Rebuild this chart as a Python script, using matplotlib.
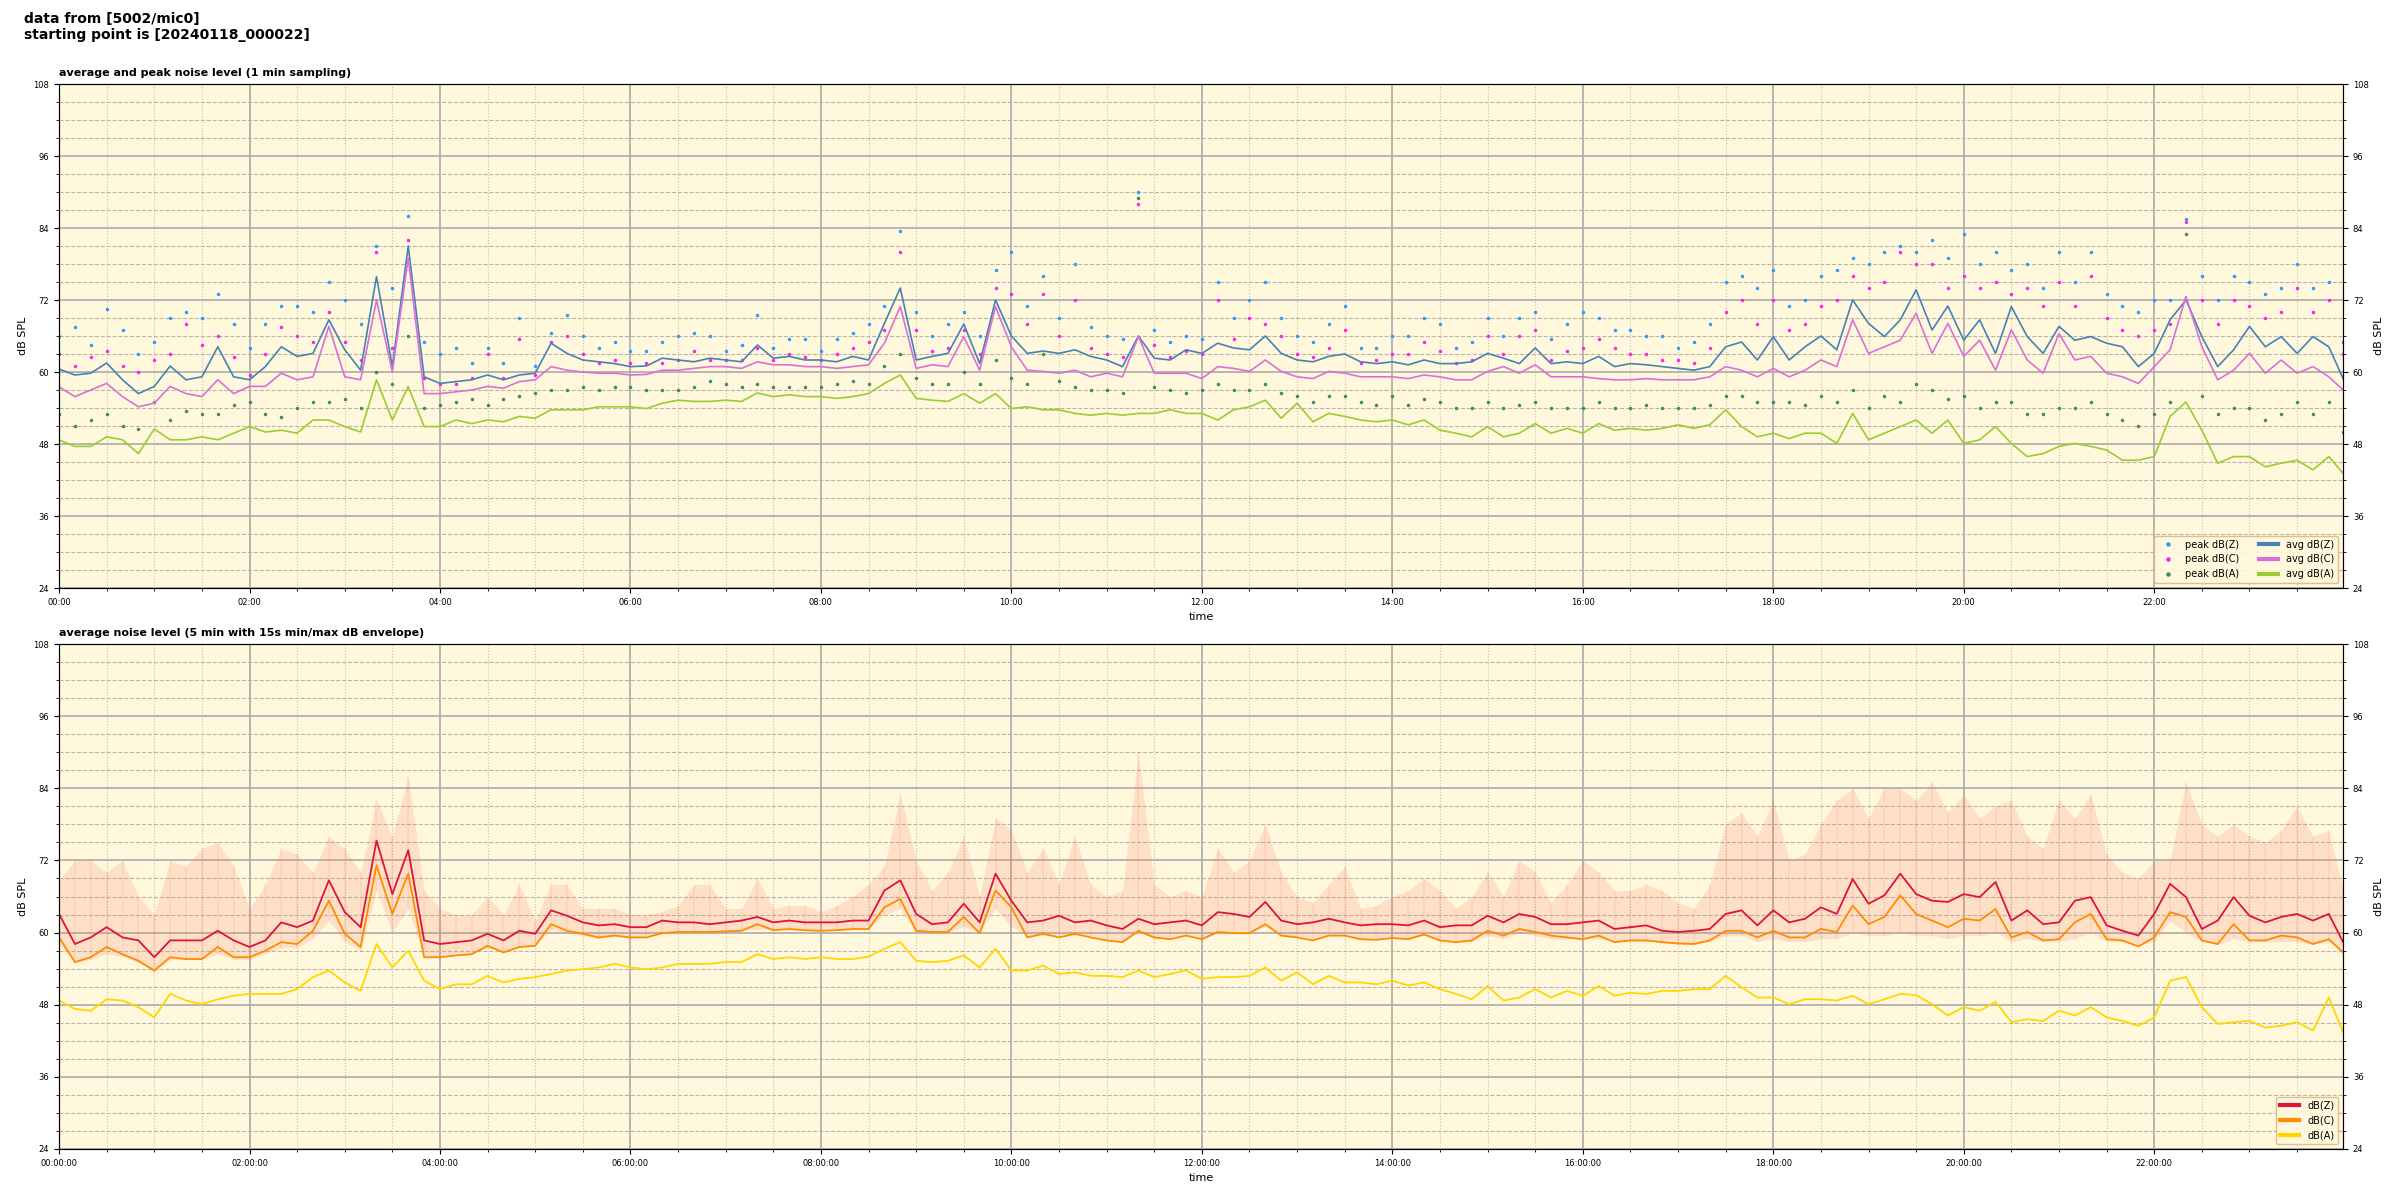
import matplotlib
matplotlib.use("Agg")
import matplotlib.pyplot as plt
import matplotlib.ticker as mtick
import numpy as np

# time axis: minutes since start, 10 min steps + last sample
minutes = list(range(0, 1440, 10)) + [1439]

# ---- top panel: 1 min averages (read every 10 min) ----
avg_z = [60.5, 59.5, 59.8, 61.5, 58.7, 56.4, 57.6, 61.0, 58.7, 59.2, 64.2, 59.2,
         58.7, 60.9, 64.2, 62.6, 63.1, 68.7, 63.7, 60.3, 75.9, 60.9, 81.0, 59.2,
         58.1, 58.4, 58.7, 59.5, 58.7, 59.5, 59.8, 64.8, 63.1, 62.0, 61.7, 61.4,
         60.9, 61.0, 62.3, 62.0, 61.7, 62.3, 62.0, 61.7, 64.5, 62.3, 62.6, 62.0,
         62.0, 61.7, 62.6, 62.0, 68.1, 74.0, 62.0, 62.6, 63.1, 68.0, 61.4, 72.0,
         66.0, 63.1, 63.5, 63.1, 63.7, 62.6, 62.0, 60.9, 66.0, 62.3, 62.0, 63.7,
         63.1, 64.8, 64.0, 63.7, 66.0, 63.1, 62.0, 61.7, 62.6, 63.0, 61.7, 61.4,
         61.7, 61.2, 62.0, 61.4, 61.4, 61.7, 63.1, 62.3, 61.4, 64.0, 61.4, 61.7,
         61.4, 62.6, 60.9, 61.4, 61.2, 60.9, 60.6, 60.3, 60.9, 64.2, 65.0, 62.0,
         65.9, 62.0, 64.2, 66.0, 63.7, 72.0, 68.1, 65.9, 68.7, 73.7, 67.0, 71.0,
         65.3, 68.7, 63.1, 70.9, 65.9, 63.1, 67.6, 65.3, 65.9, 64.8, 64.2, 60.9,
         63.1, 68.7, 72.0, 65.9, 60.9, 63.7, 67.6, 64.2, 65.9, 63.1, 65.9, 64.2,
         58.9]
avg_c = [57.5, 55.9, 57.0, 58.1, 55.9, 54.2, 54.8, 57.6, 56.4, 55.9, 58.7, 56.4,
         57.6, 57.6, 59.8, 58.7, 59.2, 67.6, 59.2, 58.7, 72.0, 60.0, 79.0, 56.4,
         56.4, 56.7, 57.0, 57.6, 57.3, 58.4, 58.7, 60.9, 60.3, 60.0, 59.8, 59.8,
         59.5, 59.6, 60.3, 60.3, 60.6, 60.9, 60.9, 60.6, 61.7, 61.2, 61.2, 60.9,
         60.9, 60.6, 60.9, 61.2, 64.8, 70.9, 60.6, 61.2, 60.9, 65.9, 60.3, 70.9,
         64.2, 60.3, 60.1, 59.8, 60.3, 59.2, 59.8, 59.2, 65.9, 59.8, 59.8, 59.8,
         58.9, 60.9, 60.6, 60.1, 62.0, 60.1, 59.2, 58.9, 60.1, 59.8, 59.2, 59.2,
         59.2, 58.9, 59.5, 59.2, 58.7, 58.7, 60.1, 60.9, 59.8, 61.2, 59.2, 59.2,
         59.2, 58.9, 58.7, 58.7, 58.9, 58.7, 58.7, 58.7, 59.2, 60.9, 60.3, 59.2,
         60.6, 59.2, 60.3, 62.0, 60.9, 68.7, 63.1, 64.2, 65.3, 69.8, 63.1, 68.1,
         62.6, 65.3, 60.3, 67.0, 62.0, 59.8, 66.4, 62.0, 62.6, 59.8, 59.2, 58.1,
         60.9, 63.7, 72.6, 64.2, 58.7, 60.3, 63.1, 59.8, 62.0, 59.8, 60.9, 59.2,
         57.0]
avg_a = [48.7, 47.6, 47.6, 49.2, 48.7, 46.4, 50.5, 48.7, 48.7, 49.2, 48.7, 49.8,
         50.9, 50.0, 50.3, 49.8, 52.0, 52.0, 50.9, 50.0, 58.7, 52.0, 57.6, 50.9,
         50.9, 52.0, 51.4, 52.0, 51.7, 52.6, 52.3, 53.7, 53.7, 53.7, 54.2, 54.2,
         54.2, 53.9, 54.8, 55.3, 55.1, 55.1, 55.3, 55.1, 56.5, 55.9, 56.2, 55.9,
         55.9, 55.6, 55.9, 56.4, 58.1, 59.5, 55.6, 55.3, 55.1, 56.4, 54.8, 56.4,
         53.9, 54.2, 53.7, 53.7, 53.1, 52.8, 53.1, 52.8, 53.1, 53.1, 53.7, 53.1,
         53.1, 52.0, 53.7, 54.2, 55.3, 52.3, 54.8, 51.7, 53.1, 52.6, 52.0, 51.7,
         52.0, 51.2, 52.0, 50.3, 49.8, 49.2, 50.9, 49.2, 49.8, 51.4, 49.8, 50.6,
         49.8, 51.4, 50.3, 50.6, 50.3, 50.6, 51.2, 50.6, 51.2, 53.7, 50.9, 49.2,
         49.8, 48.9, 49.8, 49.8, 48.1, 53.1, 48.7, 49.8, 50.9, 52.0, 49.8, 52.0,
         48.1, 48.7, 50.9, 48.1, 45.9, 46.4, 47.6, 48.1, 47.6, 47.0, 45.3, 45.3,
         45.9, 52.6, 55.0, 50.3, 44.8, 45.9, 45.9, 44.2, 44.8, 45.3, 43.7, 45.9,
         43.1]

# peaks
peak_z = [66, 67.5, 64.5, 70.5, 67, 63, 65, 69, 70, 69, 73, 68,
          64, 68, 71, 71, 70, 75, 72, 68, 81, 74, 86, 65,
          63, 64, 61.5, 64, 61.5, 69, 61, 66.5, 69.5, 66, 64, 65,
          63.5, 63.5, 65, 66, 66.5, 66, 63.5, 64.5, 69.5, 64, 65.5, 65.5,
          63.5, 65.5, 66.5, 68, 71, 83.5, 70, 66, 68, 70, 66, 77,
          80, 71, 76, 69, 78, 67.5, 66, 65.5, 90, 67, 65, 66,
          65.5, 75, 69, 72, 75, 69, 66, 65, 68, 71, 64, 64,
          66, 66, 69, 68, 64, 65, 69, 66, 69, 70, 65.5, 68,
          70, 69, 67, 67, 66, 66, 64, 65, 68, 75, 76, 74,
          77, 71, 72, 76, 77, 79, 78, 80, 81, 80, 82, 79,
          83, 78, 80, 77, 78, 74, 80, 75, 80, 73, 71, 70,
          72, 72, 85.5, 76, 72, 76, 75, 73, 74, 78, 74, 75,
          65]
peak_c = [63, 61, 62.5, 63.5, 61, 60, 62, 63, 68, 64.5, 66, 62.5,
          59.5, 63, 67.5, 66, 65, 70, 65, 62, 80, 64, 82, 59,
          58, 58, 59, 63, 59, 65.5, 59.5, 65, 66, 63, 61.5, 62,
          61.5, 61.5, 61.5, 62, 63.5, 62, 62, 62, 64, 62, 63, 62.5,
          62, 63, 64, 65, 67, 80, 67, 63.5, 64, 67, 63, 74,
          73, 68, 73, 66, 72, 64, 63, 62.5, 88, 64.5, 62.5, 63.5,
          63, 72, 65.5, 69, 68, 66, 63, 62.5, 64, 67, 61.5, 62,
          63, 63, 65, 63.5, 61.5, 62, 66, 63, 66, 67, 62, 63.5,
          64, 65.5, 64, 63, 63, 62, 62, 61.5, 64, 70, 72, 68,
          72, 67, 68, 71, 72, 76, 74, 75, 80, 78, 78, 74,
          76, 74, 75, 73, 74, 71, 75, 71, 76, 69, 67, 66,
          67, 68, 85, 72, 68, 72, 71, 69, 70, 74, 70, 72,
          63]
peak_a = [53, 51, 52, 53, 51, 50.5, 55, 52, 53.5, 53, 53, 54.5,
          55, 53, 52.5, 54, 55, 55, 55.5, 54, 60, 58, 66, 54,
          54.5, 55, 55.5, 54.5, 55.5, 56, 56.5, 57, 57, 57.5, 57, 57.5,
          57.5, 57, 57, 57, 57.5, 58.5, 58, 57.5, 58, 57.5, 57.5, 57.5,
          57.5, 58, 58.5, 58, 61, 63, 59, 58, 58, 60, 58, 62,
          59, 58, 63, 58.5, 57.5, 57, 57, 56.5, 89, 57.5, 57, 56.5,
          57, 58, 57, 57, 58, 56.5, 56, 55, 56, 56, 55, 54.5,
          56, 54.5, 55.5, 55, 54, 54, 55, 54, 54.5, 55, 54, 54,
          54, 55, 54, 54, 54.5, 54, 54, 54, 54.5, 56, 56, 55,
          55, 55, 54.5, 56, 55, 57, 54, 56, 55, 58, 57, 55.5,
          56, 54, 55, 55, 53, 53, 54, 54, 55, 53, 52, 51,
          53, 55, 83, 56, 53, 54, 54, 52, 53, 55, 53, 55,
          50]

# ---- bottom panel: 5 min averages + 15 s min/max envelope ----
ma_z = [63.1, 58.1, 59.2, 60.9, 59.2, 58.7, 55.9, 58.7, 58.7, 58.7, 60.3, 58.7,
        57.6, 58.7, 61.7, 60.9, 62.0, 68.7, 63.4, 60.9, 75.3, 66.4, 73.7, 58.7,
        58.1, 58.4, 58.7, 59.8, 58.7, 60.3, 59.8, 63.7, 62.8, 61.7, 61.2, 61.4,
        60.9, 60.9, 62.0, 61.7, 61.7, 61.4, 61.7, 62.0, 62.6, 61.7, 62.0, 61.7,
        61.7, 61.7, 62.0, 62.0, 67.0, 68.7, 63.1, 61.4, 61.7, 64.8, 61.7, 69.8,
        65.3, 61.7, 62.0, 62.8, 61.7, 62.0, 61.2, 60.6, 62.3, 61.4, 61.7, 62.0,
        61.2, 63.4, 63.1, 62.6, 65.1, 62.0, 61.4, 61.7, 62.3, 61.7, 61.2, 61.4,
        61.4, 61.2, 62.0, 60.9, 61.2, 61.2, 62.8, 61.7, 63.1, 62.6, 61.4, 61.4,
        61.7, 62.0, 60.6, 60.9, 61.2, 60.3, 60.1, 60.3, 60.6, 63.1, 63.7, 61.2,
        63.7, 61.7, 62.3, 64.2, 63.1, 68.9, 64.8, 66.2, 69.8, 66.4, 65.3, 65.1,
        66.4, 65.9, 68.4, 62.0, 63.7, 61.4, 61.7, 65.3, 65.9, 61.2, 60.3, 59.5,
        63.1, 68.1, 65.9, 60.6, 62.0, 65.9, 62.8, 61.7, 62.6, 63.1, 62.0, 63.1,
        58.4]
ma_c = [59.2, 55.1, 55.9, 57.6, 56.4, 55.3, 53.7, 55.9, 55.6, 55.6, 57.6, 55.9,
        55.9, 57.0, 58.4, 58.1, 60.3, 65.3, 59.8, 57.6, 71.2, 63.1, 69.8, 55.9,
        55.9, 56.2, 56.4, 57.8, 56.7, 57.6, 57.8, 61.4, 60.3, 59.8, 59.2, 59.5,
        59.2, 59.2, 59.9, 60.1, 60.1, 60.1, 60.2, 60.3, 61.4, 60.4, 60.6, 60.4,
        60.3, 60.4, 60.6, 60.6, 64.2, 65.6, 60.3, 60.1, 60.1, 62.6, 59.9, 67.0,
        64.2, 59.2, 59.8, 59.2, 59.8, 59.2, 58.7, 58.4, 60.3, 59.2, 58.9, 59.5,
        58.9, 60.1, 59.9, 59.9, 61.4, 59.5, 59.2, 58.7, 59.5, 59.5, 58.9, 58.8,
        59.1, 58.9, 59.7, 58.7, 58.4, 58.7, 60.3, 59.5, 60.6, 60.1, 59.5, 59.2,
        58.9, 59.5, 58.4, 58.7, 58.7, 58.4, 58.2, 58.1, 58.7, 60.3, 60.3, 59.2,
        60.3, 59.2, 59.2, 60.6, 60.1, 64.5, 61.4, 62.6, 66.2, 63.1, 62.0, 60.9,
        62.3, 62.0, 63.9, 59.2, 60.1, 58.7, 58.9, 61.7, 63.1, 58.9, 58.7, 57.7,
        59.2, 63.4, 62.6, 58.7, 58.1, 61.4, 58.7, 58.7, 59.5, 59.2, 58.1, 58.9,
        56.7]
ma_a = [48.7, 47.3, 47.0, 48.9, 48.7, 47.6, 45.9, 49.8, 48.7, 48.1, 48.9, 49.5,
        49.8, 49.8, 49.8, 50.6, 52.6, 53.7, 51.7, 50.3, 58.1, 54.2, 57.0, 52.0,
        50.6, 51.4, 51.4, 52.8, 51.7, 52.3, 52.6, 53.1, 53.7, 53.9, 54.2, 54.8,
        54.2, 53.9, 54.2, 54.8, 54.8, 54.8, 55.1, 55.1, 56.4, 55.6, 55.9, 55.6,
        55.9, 55.6, 55.6, 56.0, 57.3, 58.4, 55.3, 55.1, 55.3, 56.2, 54.2, 57.3,
        53.7, 53.7, 54.5, 53.1, 53.4, 52.8, 52.8, 52.6, 53.7, 52.6, 53.1, 53.7,
        52.3, 52.6, 52.6, 52.8, 54.2, 52.0, 53.4, 51.4, 52.8, 51.7, 51.7, 51.4,
        52.0, 51.2, 51.7, 50.6, 49.8, 48.9, 51.1, 48.7, 49.2, 50.6, 49.2, 50.3,
        49.5, 51.1, 49.5, 50.0, 49.8, 50.3, 50.3, 50.6, 50.6, 52.8, 50.9, 49.2,
        49.2, 48.1, 48.9, 48.9, 48.7, 49.5, 48.1, 48.9, 49.8, 49.6, 48.1, 46.2,
        47.6, 47.0, 48.5, 45.1, 45.6, 45.3, 47.0, 46.2, 47.6, 45.9, 45.3, 44.5,
        45.9, 52.0, 52.6, 47.6, 44.8, 45.1, 45.3, 44.2, 44.5, 45.1, 43.7, 49.2,
        43.4]
env_max = [68.7, 72, 72, 70, 72, 66, 63, 72, 71, 74, 75, 71,
           64, 68, 74, 73, 70, 76, 74, 70, 82, 76, 86, 67,
           64, 63, 63, 66, 63, 68, 62, 68, 68, 64, 64, 64,
           63, 63, 63.5, 64.5, 68, 68, 64, 64, 69, 64, 64.5, 64.5,
           63.5, 64.5, 66, 68, 71, 83, 72, 67, 70, 76, 66, 79,
           77, 70, 74, 68, 76, 68, 66, 67, 90, 68, 66, 67,
           66, 74, 70, 72, 78, 70, 66, 65, 68, 71, 64, 64.5,
           66, 67, 69, 67, 64, 66, 70, 66, 72, 70, 65, 68,
           72, 70, 67, 67, 68, 67, 65, 64, 68, 78, 80, 76,
           82, 72, 73, 78, 82, 84, 79, 84, 84, 82, 85, 80,
           83, 79, 81, 82, 76, 74, 82, 79, 83, 73, 70, 69,
           72, 72, 85, 78, 76, 78, 76, 75, 77, 81, 76, 77,
           67]
env_min = [58, 55, 55.5, 56.5, 56, 55, 53.5, 55.5, 55.5, 55.5, 56.5, 55.5,
           55.5, 56.5, 57.5, 57.5, 59, 62, 58.5, 57, 67, 60, 64, 56,
           56, 56.5, 56.5, 57.5, 57, 57.5, 58, 60.5, 60, 59.5, 59, 59.5,
           59, 59.5, 60, 60, 60, 60, 60, 60.5, 60.5, 60.5, 60.5, 60.5,
           60.5, 60.5, 60.5, 60.5, 63, 64, 60, 60, 60, 61, 60, 64,
           61, 59.5, 59.5, 59.5, 59.5, 59.5, 59, 58.5, 60, 59, 59, 59.5,
           59, 60, 60, 60, 61, 59.5, 59.5, 59, 59.5, 59.5, 59, 59,
           59, 59, 59.5, 58.5, 58.5, 58.5, 59.5, 59, 60, 59.5, 59, 59,
           59, 59, 58.5, 58.5, 58.5, 58.5, 58, 58, 58.5, 59.5, 59.5, 58.5,
           59, 58.5, 58.5, 59, 59, 60, 59.5, 59.5, 60, 59.5, 59.5, 59,
           59.5, 59.5, 60, 58.5, 59, 58.5, 58.5, 59, 60, 58.5, 58.5, 58,
           58.5, 62, 60, 58.5, 58, 59, 58.5, 58.5, 58.5, 58.5, 58, 58.5,
           57]

bg = '#fff8dc'


def hhmm(v, pos):
    v = int(round(v))
    return '%02d:%02d' % (v // 60, v % 60)


def hhmmss(v, pos):
    v = int(round(v))
    return '%02d:%02d:00' % (v // 60, v % 60)


def style_axes(ax, fmt):
    ax.set_facecolor(bg)
    ax.set_xlim(0, 1439)
    ax.set_ylim(24, 108)
    ax.xaxis.set_major_locator(mtick.MultipleLocator(120))
    ax.xaxis.set_minor_locator(mtick.MultipleLocator(30))
    ax.yaxis.set_major_locator(mtick.MultipleLocator(12))
    ax.yaxis.set_minor_locator(mtick.MultipleLocator(3))
    ax.xaxis.set_major_formatter(mtick.FuncFormatter(fmt))
    ax.set_axisbelow(True)
    ax.xaxis.grid(True, which='major', color='#aaaaaa', lw=1.2)
    ax.yaxis.grid(True, which='major', color='#aaaaaa', lw=1.2)
    ax.xaxis.grid(True, which='minor', color='#c8c0a8', lw=0.8, ls=':')
    ax.yaxis.grid(True, which='minor', color='#b8b4a8', lw=0.8, ls='--')
    ax.tick_params(labelsize=6)
    ax.set_xlabel('time', fontsize=8)
    ax.set_ylabel('dB SPL', fontsize=8)
    r = ax.twinx()
    r.set_ylim(24, 108)
    r.yaxis.set_major_locator(mtick.MultipleLocator(12))
    r.yaxis.set_minor_locator(mtick.MultipleLocator(3))
    r.tick_params(labelsize=6)
    r.set_ylabel('dB SPL', fontsize=8)
    return r


fig = plt.figure(figsize=(24, 12), dpi=100)
fig.text(0.01, 0.99, 'data from [5002/mic0]\nstarting point is [20240118_000022]',
         fontsize=10, fontweight='bold', va='top', ha='left')

ax1 = fig.add_axes([0.0246, 0.51, 0.9517, 0.42])
style_axes(ax1, hhmm)
ax1.set_title('average and peak noise level (1 min sampling)', loc='left',
              fontsize=8, fontweight='bold')
ax1.plot(minutes, peak_z, '.', color='#3399ff', ms=3, label='peak dB(Z)')
ax1.plot(minutes, peak_c, '.', color='#ff22ee', ms=3, label='peak dB(C)')
ax1.plot(minutes, peak_a, '.', color='#3a8f5c', ms=3, label='peak dB(A)')
ax1.plot(minutes, avg_z, color='steelblue', lw=1.2, label='avg dB(Z)')
ax1.plot(minutes, avg_c, color='orchid', lw=1.2, label='avg dB(C)')
ax1.plot(minutes, avg_a, color='yellowgreen', lw=1.2, label='avg dB(A)')
leg1 = ax1.legend(loc='lower right', ncol=2, fontsize=7, markerscale=1.5,
                  facecolor=bg, edgecolor='burlywood', framealpha=0.9)
for h in leg1.get_lines():
    h.set_linewidth(3)

ax2 = fig.add_axes([0.0246, 0.0425, 0.9517, 0.4208])
style_axes(ax2, hhmmss)
ax2.set_title('average noise level (5 min with 15s min/max dB envelope)', loc='left',
              fontsize=8, fontweight='bold')
# envelope: faint band plus faint spikes up to the 15 s maxima
ax2.fill_between(minutes, env_min, env_max, color='salmon', alpha=0.2, lw=0)
ax2.vlines(minutes, env_min, env_max, color='salmon', alpha=0.15, lw=1.2)
ax2.plot(minutes, ma_z, color='crimson', lw=1.3, label='dB(Z)')
ax2.plot(minutes, ma_c, color='darkorange', lw=1.3, label='dB(C)')
ax2.plot(minutes, ma_a, color='gold', lw=1.3, label='dB(A)')
leg2 = ax2.legend(loc='lower right', fontsize=7, facecolor=bg,
                  edgecolor='burlywood', framealpha=0.9)
for h in leg2.get_lines():
    h.set_linewidth(3)

fig.savefig('out.png', dpi=100)
